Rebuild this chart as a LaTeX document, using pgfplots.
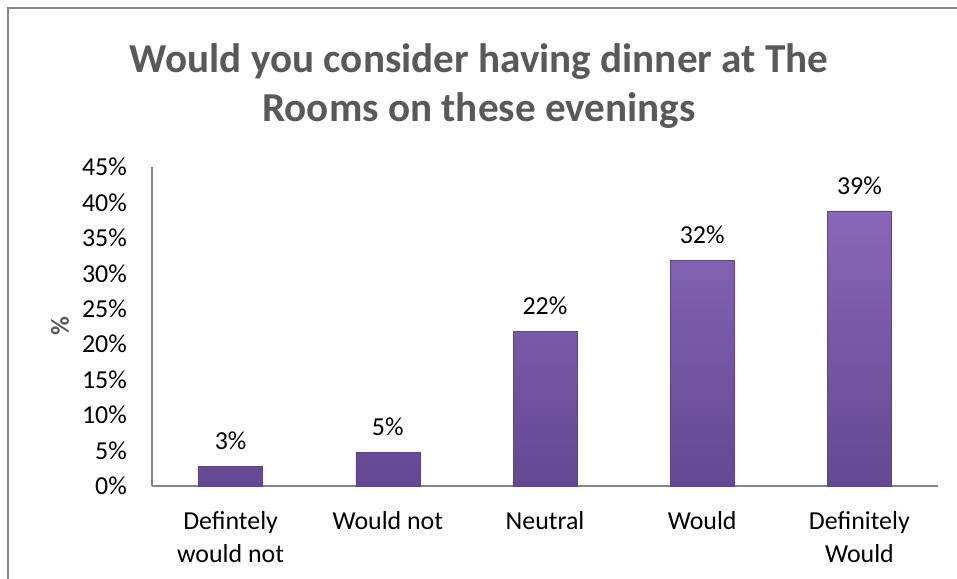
\documentclass[border=0pt]{standalone}
\usepackage{pgfplots}
\pgfplotsset{compat=1.18}
\usepackage{fontspec}
\setmainfont{Carlito}

\definecolor{titlegray}{RGB}{89,89,89}
\definecolor{axisgray}{RGB}{134,134,134}
\definecolor{bartop}{RGB}{136,102,184}
\definecolor{barbot}{RGB}{100,72,146}
\definecolor{baredge}{RGB}{92,66,134}

\begin{document}
\begin{tikzpicture}
    \useasboundingbox (0,0) rectangle (957bp,579bp);
    % chart frame, only left and top edges are visible
    \draw[axisgray, line width=1.2bp] (8bp,-20bp) -- (8bp,571bp) -- (990bp,571bp);

    \node[text=titlegray, align=center, font=\fontsize{41.3}{50}\selectfont\bfseries]
        at (479bp,493bp) {Would you consider having dinner at The\\Rooms on these evenings};

    \begin{axis}[
        at={(152bp,93bp)}, anchor=south west,
        scale only axis,
        width=786bp, height=319bp,
        xmin=-0.5, xmax=4.5,
        ymin=0, ymax=45,
        xtick=data,
        xticklabels={{Defintely\\would not}, Would not, Neutral, Would, {Definitely\\Would}},
        ytick={0,5,...,45},
        yticklabel={\pgfmathprintnumber{\tick}\%},
        major tick length=0pt,
        axis x line*=bottom, axis y line*=left,
        axis line style={axisgray, line width=1.2bp, -},
        /pgf/number format/assume math mode=true,
        ticklabel style={font=\fontsize{26}{33}\selectfont},
        xticklabel style={align=center, anchor=north, inner sep=0pt, yshift=-25bp},
        yticklabel style={anchor=east, inner sep=0pt, xshift=-25bp},
        ylabel={\%},
        every axis y label/.style={at={(axis description cs:0,0.5)}, xshift=-92bp, rotate=90, anchor=center},
        ylabel style={text=titlegray, font=\fontsize{26}{30}\selectfont\bfseries},
        nodes near coords={\pgfmathprintnumber[fixed, precision=0]{\pgfplotspointmeta}\%},
        nodes near coords style={font=\fontsize{26}{30}\selectfont, anchor=south, yshift=13bp},
        clip=false,
    ]
        \addplot[ybar, bar width=64bp, draw=baredge, top color=bartop, bottom color=barbot]
            coordinates {(0,2.8) (1,4.7) (2,21.8) (3,31.8) (4,38.8)};
    \end{axis}
\end{tikzpicture}
\end{document}
